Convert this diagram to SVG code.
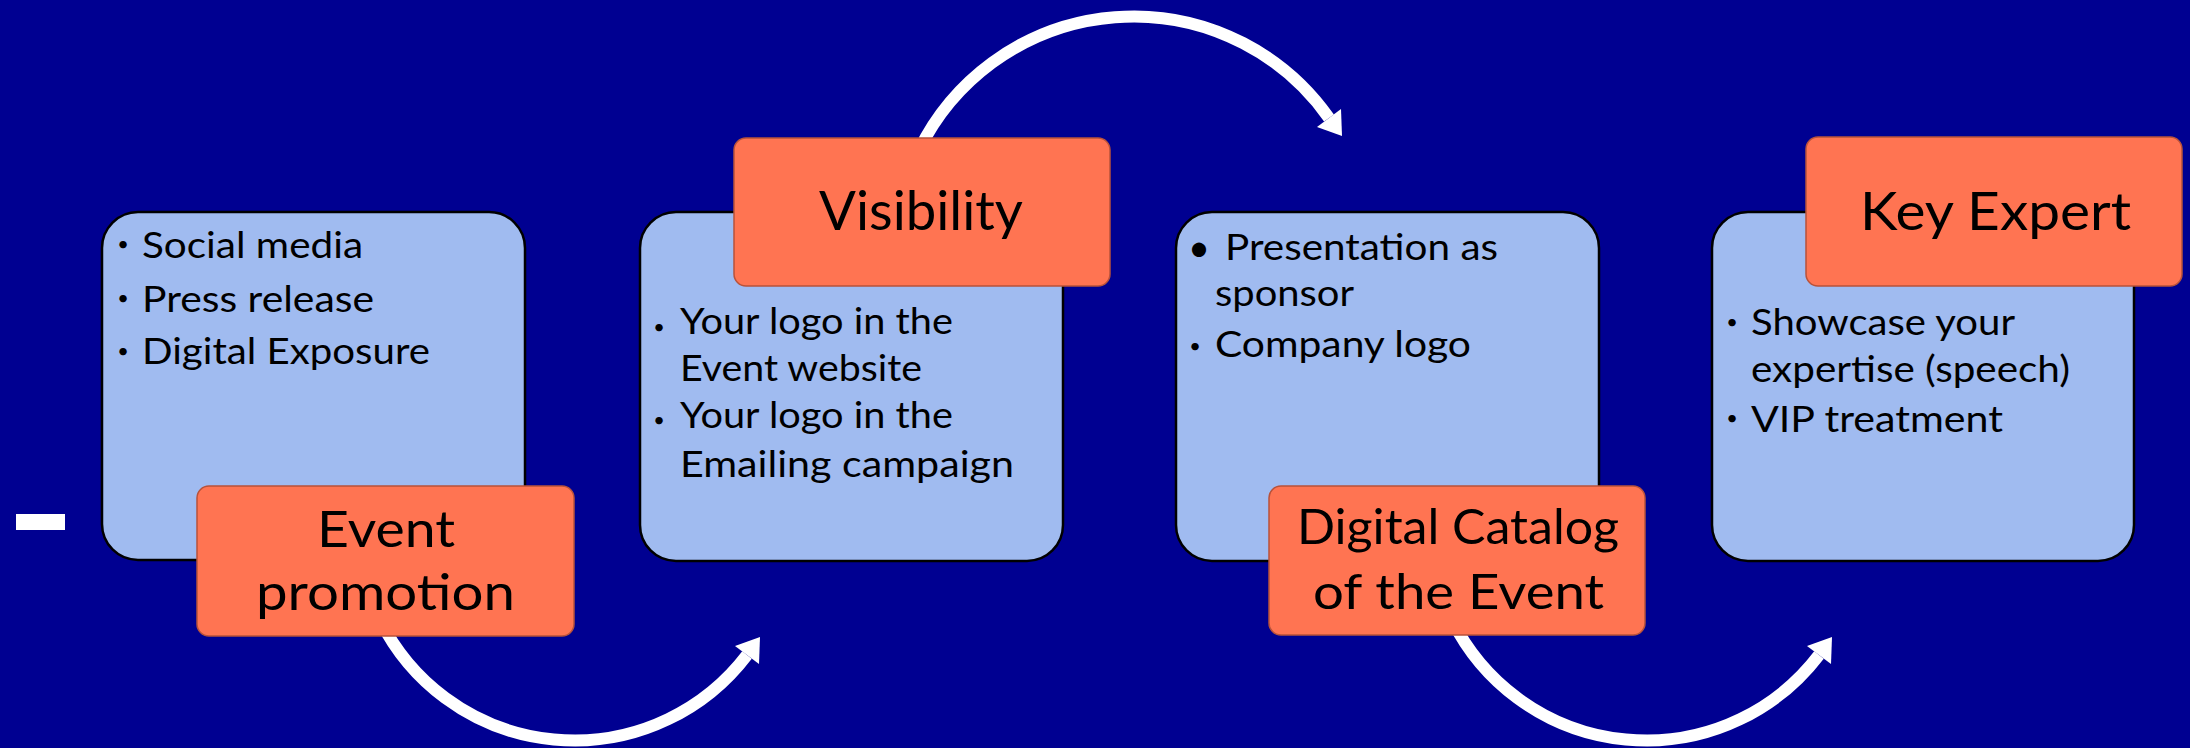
<svg xmlns="http://www.w3.org/2000/svg" width="2190" height="748" viewBox="0 0 2190 748">
  <style>
    .bg { fill: #000091; }
    .card { fill: #A0BBF0; stroke: #000000; stroke-width: 2.5; }
    .tag { fill: #FF7452; stroke: #B8523A; stroke-width: 1.5; }
    .body { font-family: "Lato", "Liberation Sans", sans-serif; font-size: 37px; fill: #000000; }
    .bul { font-family: "Lato", "Liberation Sans", sans-serif; font-size: 20px; fill: #000000; text-anchor: middle; }
    .bigbul { font-family: "Lato", "Liberation Sans", sans-serif; font-size: 38px; fill: #000000; text-anchor: middle; }
    .title { font-family: "Lato", "Liberation Sans", sans-serif; fill: #000000; }
    .arc { fill: none; stroke: #FFFFFF; stroke-width: 12; }
    .head { fill: #FFFFFF; }
  </style>
  <rect class="bg" x="0" y="0" width="2190" height="748"/>
  <rect id="dash" x="16" y="514" width="49" height="16" fill="#FFFFFF"/>

  <g id="connectors">
    <g id="arrow-1">
      <path class="arc" d="M 380 620 A 217 217 0 0 0 747 655"/>
      <polygon class="head" points="760,637 759,664 735,646"/>
    </g>
    <g id="arrow-2">
      <path class="arc" d="M 919 150 A 239 239 0 0 1 1329 118"/>
      <polygon class="head" points="1342,136 1341,109 1317,127"/>
    </g>
    <g id="arrow-3" transform="translate(1072,0)">
      <path class="arc" d="M 380 620 A 217 217 0 0 0 747 655"/>
      <polygon class="head" points="760,637 759,664 735,646"/>
    </g>
  </g>

  <g id="node-1">
    <rect class="card" x="102" y="212" width="423" height="348" rx="36"/>
    <text class="bul" x="123" y="251">•</text>
    <text class="body" x="142" y="258" textLength="221" lengthAdjust="spacingAndGlyphs">Social media</text>
    <text class="bul" x="123" y="305">•</text>
    <text class="body" x="142" y="312" textLength="232" lengthAdjust="spacingAndGlyphs">Press release</text>
    <text class="bul" x="123" y="358">•</text>
    <text class="body" x="142" y="364" textLength="288" lengthAdjust="spacingAndGlyphs">Digital Exposure</text>
    <rect class="tag" x="197" y="486" width="377" height="150" rx="12"/>
    <text class="title" x="317" y="547" font-size="51" textLength="138" lengthAdjust="spacingAndGlyphs">Event</text>
    <text class="title" x="256" y="610" font-size="51" textLength="259" lengthAdjust="spacingAndGlyphs">promotion</text>
  </g>

  <g id="node-2">
    <rect class="card" x="640" y="212" width="423" height="349" rx="36"/>
    <text class="bul" x="659" y="334">•</text>
    <text class="body" x="680" y="334" textLength="273" lengthAdjust="spacingAndGlyphs">Your logo in the</text>
    <text class="body" x="680" y="381" textLength="242" lengthAdjust="spacingAndGlyphs">Event website</text>
    <text class="bul" x="659" y="427">•</text>
    <text class="body" x="680" y="428" textLength="273" lengthAdjust="spacingAndGlyphs">Your logo in the</text>
    <text class="body" x="680" y="477" textLength="334" lengthAdjust="spacingAndGlyphs">Emailing campaign</text>
    <rect class="tag" x="734" y="138" width="376" height="148" rx="12"/>
    <text class="title" x="819" y="230" font-size="54" textLength="204" lengthAdjust="spacingAndGlyphs">Visibility</text>
  </g>

  <g id="node-3">
    <rect class="card" x="1176" y="212" width="423" height="349" rx="36"/>
    <text class="bigbul" x="1199" y="261">•</text>
    <text class="body" x="1225" y="260" textLength="273" lengthAdjust="spacingAndGlyphs">Presentation as</text>
    <text class="body" x="1215" y="306" textLength="139" lengthAdjust="spacingAndGlyphs">sponsor</text>
    <text class="bul" x="1195" y="353">•</text>
    <text class="body" x="1215" y="357" textLength="256" lengthAdjust="spacingAndGlyphs">Company logo</text>
    <rect class="tag" x="1269" y="486" width="376" height="149" rx="12"/>
    <text class="title" x="1297" y="544" font-size="48" textLength="322" lengthAdjust="spacingAndGlyphs">Digital Catalog</text>
    <text class="title" x="1313" y="609" font-size="48" textLength="291" lengthAdjust="spacingAndGlyphs">of the Event</text>
  </g>

  <g id="node-4">
    <rect class="card" x="1712" y="212" width="422" height="349" rx="36"/>
    <text class="bul" x="1732" y="329">•</text>
    <text class="body" x="1751" y="335" textLength="264" lengthAdjust="spacingAndGlyphs">Showcase your</text>
    <text class="body" x="1751" y="382" textLength="319" lengthAdjust="spacingAndGlyphs">expertise (speech)</text>
    <text class="bul" x="1732" y="425">•</text>
    <text class="body" x="1751" y="432" textLength="252" lengthAdjust="spacingAndGlyphs">VIP treatment</text>
    <rect class="tag" x="1806" y="137" width="376" height="149" rx="12"/>
    <text class="title" x="1860" y="230" font-size="53" textLength="271" lengthAdjust="spacingAndGlyphs">Key Expert</text>
  </g>
</svg>
